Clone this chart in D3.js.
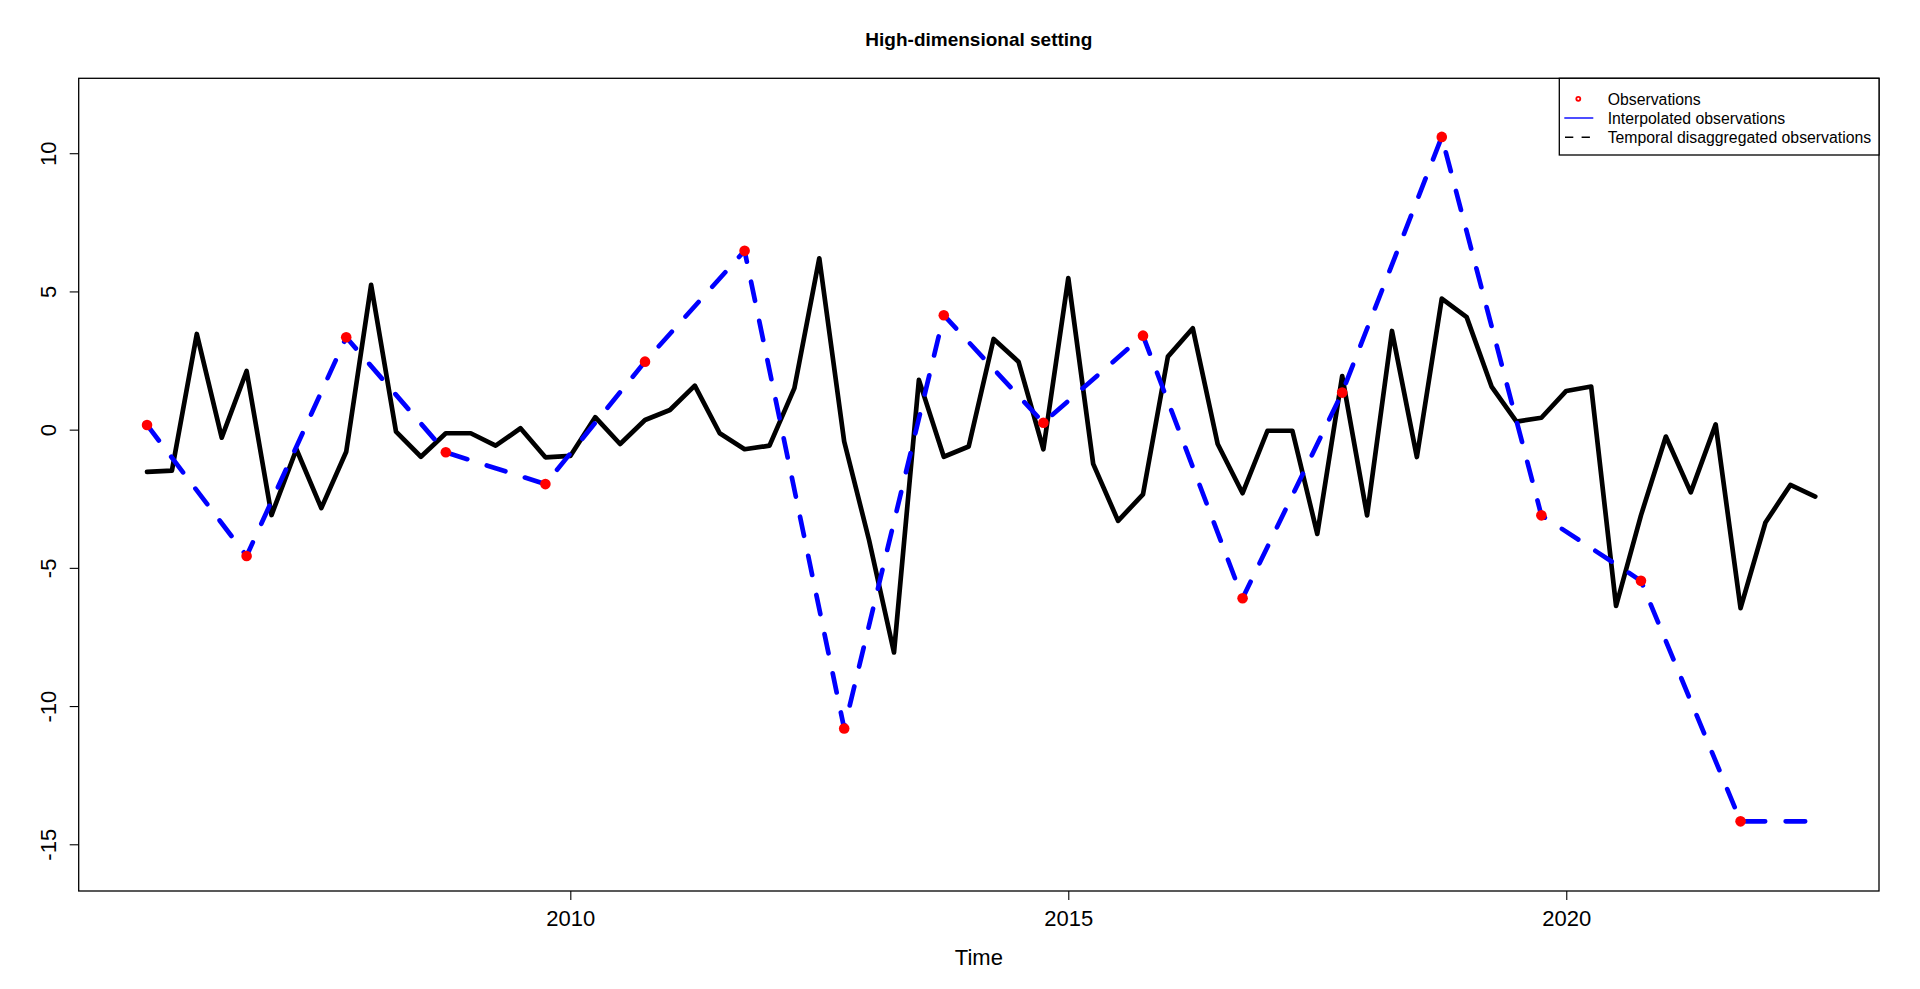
<!DOCTYPE html>
<html>
<head>
<meta charset="utf-8">
<script src="https://cdn.jsdelivr.net/npm/d3@7"></script>
<style>
  html, body { margin: 0; padding: 0; background: #fff; }
  svg { display: block; }
  text { font-family: "Liberation Sans", Arial, sans-serif; }
</style>
</head>
<body>
<svg id="chart" width="1920" height="989"></svg>
<script>
// ---- data ----
const chartTitle = "High-dimensional setting";
const xAxisTitle = "Time";
const xTickValues = [2010, 2015, 2020];
const yTickValues = [-15, -10, -5, 0, 5, 10];

// quarterly series (temporal disaggregation), starting 2005 Q4
const quarterlyStart = 2005.75;
const quarterlyValues = [
  -1.53,
  -1.48, 3.46, -0.29, 2.12,
  -3.09, -0.71, -2.84, -0.80,
  5.24, -0.07, -0.98, -0.13,
  -0.13, -0.58, 0.05, -1.00,
  -0.95, 0.45, -0.52, 0.35,
  0.71, 1.59, -0.13, -0.71,
  -0.58, 1.50, 6.20, -0.43,
  -4.00, -8.06, 1.80, -0.98,
  -0.61, 3.28, 2.46, -0.71,
  5.48, -1.24, -3.30, -2.34,
  2.64, 3.67, -0.52, -2.30,
  -0.04, -0.04, -3.77, 1.94,
  -3.10, 3.57, -0.99, 4.74,
  4.07, 1.56, 0.29, 0.43,
  1.40, 1.56, -6.38, -3.10,
  -0.25, -2.27, 0.19, -6.46,
  -3.36, -2.00, -2.42
];

// annual observations (Q4 of each year)
const obsTimes = [2005.75, 2006.75, 2007.75, 2008.75, 2009.75, 2010.75, 2011.75, 2012.75,
  2013.75, 2014.75, 2015.75, 2016.75, 2017.75, 2018.75, 2019.75, 2020.75, 2021.75];
const obsValues = [0.17, -4.57, 3.34, -0.82, -1.97, 2.46, 6.47, -10.81,
  4.14, 0.25, 3.40, -6.10, 1.34, 10.59, -3.10, -5.47, -14.17];

// interpolated observations line: the observations, carried to the series end
const interpEndTime = 2022.5;
const interpEndValue = -14.17;

const legendLabels = ["Observations", "Interpolated observations", "Temporal disaggregated observations"];

// ---- layout ----
const plot = { left: 78.7, right: 1879, top: 78.3, bottom: 891 };
const svg = d3.select("#chart");

const x = d3.scaleLinear().domain([2005.064, 2023.14]).range([plot.left, plot.right]);
const y = d3.scaleLinear().domain([-16.69, 12.71]).range([plot.bottom, plot.top]);

const quarterly = quarterlyValues.map((v, i) => ({ t: quarterlyStart + i * 0.25, v }));
const obs = obsTimes.map((t, i) => ({ t, v: obsValues[i] }));
const interp = obs.concat([{ t: interpEndTime, v: interpEndValue }]);

const line = d3.line().x(d => x(d.t)).y(d => y(d.v));

// black series
svg.append("path")
  .datum(quarterly)
  .attr("d", line)
  .attr("fill", "none")
  .attr("stroke", "#000")
  .attr("stroke-width", 4.7)
  .attr("stroke-linejoin", "round")
  .attr("stroke-linecap", "round");

// blue dashed interpolated
svg.append("path")
  .datum(interp)
  .attr("d", line)
  .attr("fill", "none")
  .attr("stroke", "#0000ff")
  .attr("stroke-width", 4.7)
  .attr("stroke-dasharray", "19.5,20.5")
  .attr("stroke-linejoin", "round")
  .attr("stroke-linecap", "round");

// red observation points
svg.append("g").selectAll("circle")
  .data(obs)
  .join("circle")
  .attr("cx", d => x(d.t))
  .attr("cy", d => y(d.v))
  .attr("r", 5.3)
  .attr("fill", "#ff0000");

// box
svg.append("rect")
  .attr("x", plot.left).attr("y", plot.top)
  .attr("width", plot.right - plot.left)
  .attr("height", plot.bottom - plot.top)
  .attr("fill", "none")
  .attr("stroke", "#000")
  .attr("stroke-width", 1.3);

// x axis
const gx = svg.append("g")
  .attr("transform", `translate(0,${plot.bottom})`)
  .call(d3.axisBottom(x).tickValues(xTickValues).tickSize(9).tickFormat(d3.format("d")));
gx.select(".domain").remove();
gx.selectAll(".tick line").attr("stroke", "#000").attr("stroke-width", 1.1);
gx.selectAll(".tick text")
  .attr("y", 35).attr("dy", 0)
  .attr("fill", "#000")
  .style("font-size", "22px")
  .style("font-family", "'Liberation Sans', Arial, sans-serif");

// y axis
const gy = svg.append("g")
  .attr("transform", `translate(${plot.left},0)`)
  .call(d3.axisLeft(y).tickValues(yTickValues).tickSize(9).tickFormat(d => d3.format("d")(d).replace("−", "-")));
gy.select(".domain").remove();
gy.selectAll(".tick line").attr("stroke", "#000").attr("stroke-width", 1.1);
gy.selectAll(".tick text")
  .attr("x", 0).attr("y", 0).attr("dy", 0)
  .attr("text-anchor", "middle")
  .attr("transform", "translate(-22.7,0) rotate(-90)")
  .attr("fill", "#000")
  .style("font-size", "22px")
  .style("font-family", "'Liberation Sans', Arial, sans-serif");

// title
svg.append("text")
  .attr("x", (plot.left + plot.right) / 2)
  .attr("y", 46)
  .attr("text-anchor", "middle")
  .style("font-size", "19px")
  .style("font-weight", "bold")
  .text(chartTitle);

// x axis title
svg.append("text")
  .attr("x", (plot.left + plot.right) / 2)
  .attr("y", 965)
  .attr("text-anchor", "middle")
  .style("font-size", "22px")
  .text(xAxisTitle);

// legend
const leg = svg.append("g");
leg.append("rect")
  .attr("x", 1559.3).attr("y", plot.top)
  .attr("width", plot.right - 1559.3).attr("height", 155 - plot.top)
  .attr("fill", "#fff")
  .attr("stroke", "#000")
  .attr("stroke-width", 1.3);

const rowY = [98.8, 118.0, 137.2];
leg.selectAll("text.lab")
  .data(legendLabels)
  .join("text")
  .attr("class", "lab")
  .attr("x", 1607.7)
  .attr("y", (d, i) => rowY[i] + 5.8)
  .style("font-size", "15.8px")
  .text(d => d);

leg.append("circle")
  .attr("cx", 1578.3).attr("cy", rowY[0])
  .attr("r", 2)
  .attr("fill", "none")
  .attr("stroke", "#ff0000")
  .attr("stroke-width", 1.8);

leg.append("line")
  .attr("x1", 1564.3).attr("x2", 1593.3)
  .attr("y1", rowY[1]).attr("y2", rowY[1])
  .attr("stroke", "#0000ff")
  .attr("stroke-width", 1.4);

leg.append("line")
  .attr("x1", 1565).attr("x2", 1590.5)
  .attr("y1", rowY[2]).attr("y2", rowY[2])
  .attr("stroke", "#000")
  .attr("stroke-width", 1.4)
  .attr("stroke-dasharray", "8.3,8.3");
</script>
</body>
</html>
